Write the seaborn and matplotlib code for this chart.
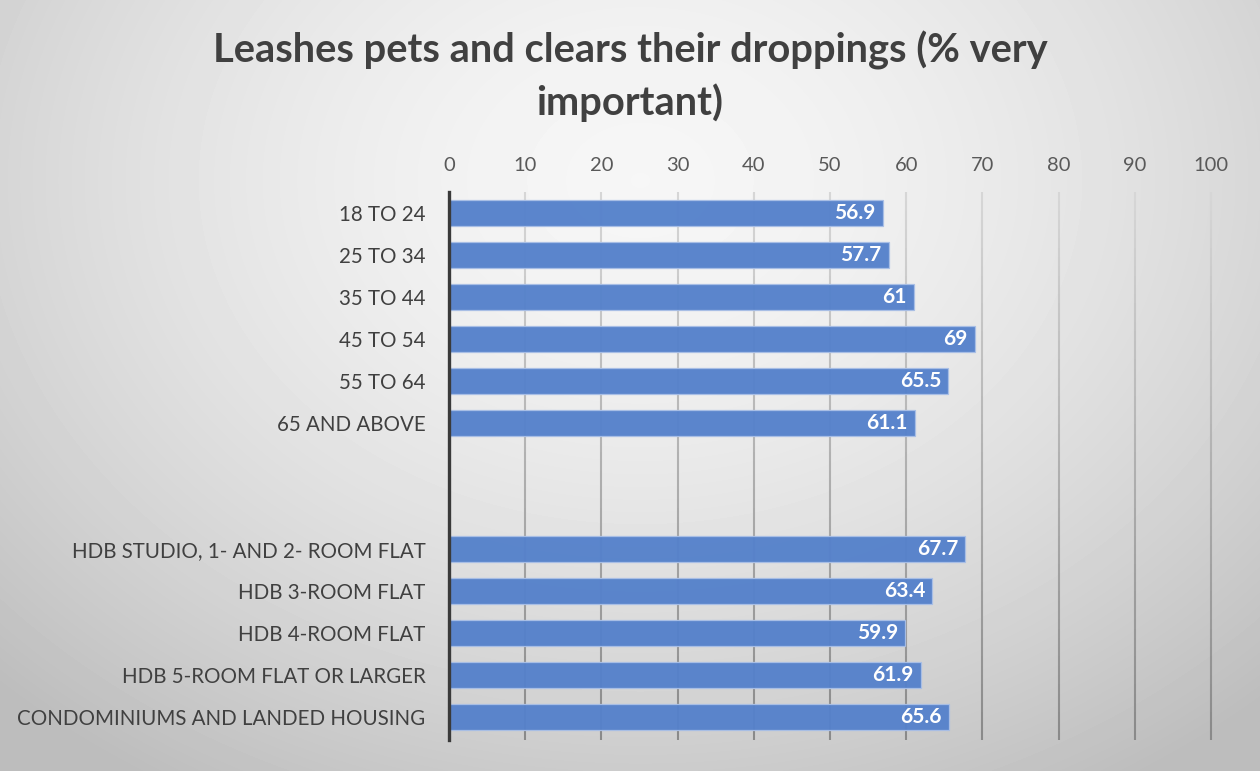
import numpy as np
import pandas as pd
import matplotlib
matplotlib.use("Agg")
import matplotlib.pyplot as plt
from matplotlib.collections import LineCollection
import seaborn as sns

# Survey results: share rating "leashes pets and clears their droppings" as very important
age_groups = ["18 TO 24", "25 TO 34", "35 TO 44", "45 TO 54", "55 TO 64", "65 AND ABOVE"]
age_values = [56.9, 57.7, 61, 69, 65.5, 61.1]
housing_types = ["HDB STUDIO, 1- AND 2- ROOM FLAT", "HDB 3-ROOM FLAT", "HDB 4-ROOM FLAT",
                 "HDB 5-ROOM FLAT OR LARGER", "CONDOMINIUMS AND LANDED HOUSING"]
housing_values = [67.7, 63.4, 59.9, 61.9, 65.6]
spacer_labels = [" ", "  "]
x_ticks = list(range(0, 101, 10))
title = "Leashes pets and clears their droppings (% very\nimportant)"

categories = age_groups + spacer_labels + housing_types
values = age_values + [np.nan, np.nan] + housing_values
df = pd.DataFrame({"category": categories, "value": values})

sns.set_theme(style="white")
plt.rcParams["font.family"] = ["Lato", "DejaVu Sans"]

fig = plt.figure(figsize=(12.6, 7.71), dpi=100)

# Soft grey radial backdrop
bg = fig.add_axes([0, 0, 1, 1], zorder=-10)
h, w = 771, 1260
yy, xx = np.mgrid[0:h, 0:w]
r = np.sqrt(((xx - 640) / 900.0) ** 2 + ((yy - 180) / 700.0) ** 2)
shade = np.clip(0.965 - 0.22 * r ** 1.6, 0.74, 1.0)
bg.imshow(shade, cmap="gray", vmin=0, vmax=1, aspect="auto", extent=[0, 1, 0, 1],
          interpolation="bilinear")
bg.set_axis_off()

ax = fig.add_axes([449 / 1260, 1 - 738 / 771, (1211 - 449) / 1260, (738 - 192) / 771])
ax.set_facecolor("none")

sns.barplot(data=df, x="value", y="category", order=categories, orient="h",
            color="#5581cb", saturation=1, alpha=0.96, width=0.6, edgecolor="#a9bfe6",
            linewidth=0.9, errorbar=None, ax=ax, zorder=3)

for i, v in enumerate(values):
    if not np.isnan(v):
        ax.text(v - 0.9, i, f"{v:g}", ha="right", va="center", color="white",
                fontsize=15, fontweight="bold", zorder=5)

n = len(categories)
ax.set_xlim(0, 100)
ax.set_ylim(n - 0.5, -0.5)
ax.set_xticks(x_ticks)
ax.xaxis.tick_top()
ax.tick_params(axis="x", length=0, labelsize=14.5, labelcolor="#595959", pad=13)
ax.tick_params(axis="y", length=0, labelsize=14.8, labelcolor="#404040", pad=17)
ax.set_xlabel("")
ax.set_ylabel("")

# Vertical gridlines fading from light at the top to darker at the bottom
ys = np.linspace(-0.5, n - 0.45, 60)
light = np.array([0.84, 0.84, 0.84])
dark = np.array([0.54, 0.54, 0.54])
for x in x_ticks[1:]:
    segs = [[(x, ys[k]), (x, ys[k + 1])] for k in range(len(ys) - 1)]
    t = np.linspace(0, 1, len(segs))[:, None]
    cols = light * (1 - t) + dark * t
    ax.add_collection(LineCollection(segs, colors=cols, linewidths=1.5, zorder=1,
                                     clip_on=False))

for s in ["top", "right", "bottom"]:
    ax.spines[s].set_visible(False)
ax.spines["left"].set_color("#3a3a3a")
ax.spines["left"].set_linewidth(2.4)
ax.spines["left"].set_zorder(6)
ax.spines["left"].set_bounds(-0.5, n - 0.45)

fig.text(0.5, 1 - 76 / 771, title, ha="center", va="center", fontsize=28.7,
         fontweight="bold", color="#404040", linespacing=1.42)

fig.savefig("out.png", dpi=100)
